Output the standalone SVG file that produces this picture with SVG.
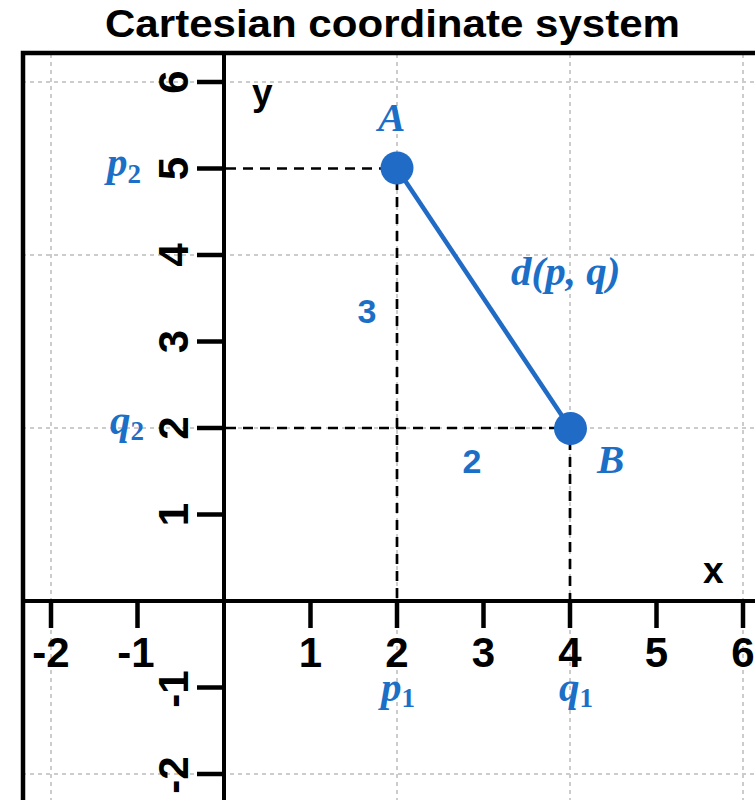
<svg xmlns="http://www.w3.org/2000/svg" width="755" height="800" viewBox="0 0 755 800">
  <style>
    .grid { stroke: #cccccc; stroke-width: 2; stroke-dasharray: 4 4; fill: none; }
    .axis { stroke: #000; stroke-width: 4; fill: none; }
    .tick { stroke: #000; stroke-width: 4.5; }
    .num { font-family: "Liberation Sans", Arial, sans-serif; font-weight: bold; font-size: 42px; fill: #000; text-anchor: middle; }
    .axlab { font-family: "Liberation Sans", Arial, sans-serif; font-weight: bold; font-size: 37px; fill: #000; }
    .math { font-family: "Liberation Serif", "Times New Roman", serif; font-weight: bold; font-style: italic; font-size: 41px; fill: #1b6fc6; }
    .sub { font-style: normal; font-size: 27px; }
    .blue { font-family: "Liberation Sans", Arial, sans-serif; font-weight: bold; font-size: 34px; fill: #1b6fc6; text-anchor: middle; }
    .dash { stroke: #000; stroke-width: 2.7; stroke-dasharray: 10 7; fill: none; }
    .pt { fill: #1f6bc5; }
  </style>

  <rect x="0" y="0" width="755" height="800" fill="#fff"/>

  <g id="title">
    <text x="105" y="37" font-family="'Liberation Sans', Arial, sans-serif" font-weight="bold" font-size="38.5" textLength="575" lengthAdjust="spacingAndGlyphs">Cartesian coordinate system</text>
  </g>

  <g id="grid">
    <line class="grid" x1="51" y1="54" x2="51" y2="800"/>
    <line class="grid" x1="397" y1="54" x2="397" y2="800"/>
    <line class="grid" x1="570" y1="54" x2="570" y2="800"/>
    <line class="grid" x1="743" y1="54" x2="743" y2="800"/>
    <line class="grid" x1="22" y1="82" x2="755" y2="82"/>
    <line class="grid" x1="22" y1="255" x2="755" y2="255"/>
    <line class="grid" x1="22" y1="428" x2="755" y2="428"/>
    <line class="grid" x1="22" y1="774" x2="755" y2="774"/>
  </g>

  <g id="frame">
    <rect x="23" y="53" width="800" height="800" fill="none" stroke="#000" stroke-width="4.5"/>
  </g>

  <g id="axes">
    <line class="axis" x1="224" y1="53" x2="224" y2="800"/>
    <line class="axis" x1="23" y1="601" x2="755" y2="601"/>
    <g id="x-ticks">
      <line class="tick" x1="51" y1="601" x2="51" y2="628"/>
      <line class="tick" x1="137.5" y1="601" x2="137.5" y2="628"/>
      <line class="tick" x1="310.5" y1="601" x2="310.5" y2="628"/>
      <line class="tick" x1="397" y1="601" x2="397" y2="628"/>
      <line class="tick" x1="483.5" y1="601" x2="483.5" y2="628"/>
      <line class="tick" x1="570" y1="601" x2="570" y2="628"/>
      <line class="tick" x1="656.5" y1="601" x2="656.5" y2="628"/>
      <line class="tick" x1="743" y1="601" x2="743" y2="628"/>
    </g>
    <g id="y-ticks">
      <line class="tick" x1="197" y1="82" x2="224" y2="82"/>
      <line class="tick" x1="197" y1="168.5" x2="224" y2="168.5"/>
      <line class="tick" x1="197" y1="255" x2="224" y2="255"/>
      <line class="tick" x1="197" y1="341.5" x2="224" y2="341.5"/>
      <line class="tick" x1="197" y1="428" x2="224" y2="428"/>
      <line class="tick" x1="197" y1="514.5" x2="224" y2="514.5"/>
      <line class="tick" x1="197" y1="687.5" x2="224" y2="687.5"/>
      <line class="tick" x1="197" y1="774" x2="224" y2="774"/>
    </g>
    <g id="x-numbers">
      <text class="num" x="51" y="667">-2</text>
      <text class="num" x="136" y="667">-1</text>
      <text class="num" x="310.5" y="667">1</text>
      <text class="num" x="397" y="667">2</text>
      <text class="num" x="483.5" y="667">3</text>
      <text class="num" x="570" y="667">4</text>
      <text class="num" x="656.5" y="667">5</text>
      <text class="num" x="743" y="667">6</text>
    </g>
    <g id="y-numbers">
      <text class="num" transform="translate(188 82) rotate(-90)">6</text>
      <text class="num" transform="translate(188 168.5) rotate(-90)">5</text>
      <text class="num" transform="translate(188 255) rotate(-90)">4</text>
      <text class="num" transform="translate(188 341.5) rotate(-90)">3</text>
      <text class="num" transform="translate(188 428) rotate(-90)">2</text>
      <text class="num" transform="translate(188 514.5) rotate(-90)">1</text>
      <text class="num" transform="translate(188 689) rotate(-90)">-1</text>
      <text class="num" transform="translate(188 775) rotate(-90)">-2</text>
    </g>
    <text class="axlab" x="252" y="105">y</text>
    <text class="axlab" x="703" y="583">x</text>
  </g>

  <g id="connectors">
    <line class="dash" x1="226" y1="168.5" x2="385" y2="168.5"/>
    <line class="dash" x1="397" y1="180" x2="397" y2="599"/>
    <line class="dash" x1="226" y1="428" x2="558" y2="428"/>
    <line class="dash" x1="570" y1="440" x2="570" y2="599"/>
    <line id="AB" x1="397" y1="168.5" x2="570.5" y2="428.5" stroke="#1f6bc5" stroke-width="4.5"/>
  </g>

  <g id="point-A">
    <circle class="pt" cx="397" cy="168" r="16.5"/>
    <text class="math" x="378" y="131">A</text>
  </g>
  <g id="point-B">
    <circle class="pt" cx="570.5" cy="428.5" r="16.5"/>
    <text class="math" x="597" y="473">B</text>
  </g>

  <g id="label-d">
    <text class="math" x="511" y="285">d(p, q)</text>
  </g>
  <g id="label-3"><text class="blue" x="367" y="323">3</text></g>
  <g id="label-2"><text class="blue" x="472" y="473">2</text></g>

  <g id="label-p2"><text class="math" x="107" y="176">p<tspan class="sub" dy="7">2</tspan></text></g>
  <g id="label-q2"><text class="math" x="110" y="434">q<tspan class="sub" dy="6">2</tspan></text></g>
  <g id="label-p1"><text class="math" x="381" y="701">p<tspan class="sub" dy="6">1</tspan></text></g>
  <g id="label-q1"><text class="math" x="559" y="701">q<tspan class="sub" dy="6">1</tspan></text></g>
</svg>
